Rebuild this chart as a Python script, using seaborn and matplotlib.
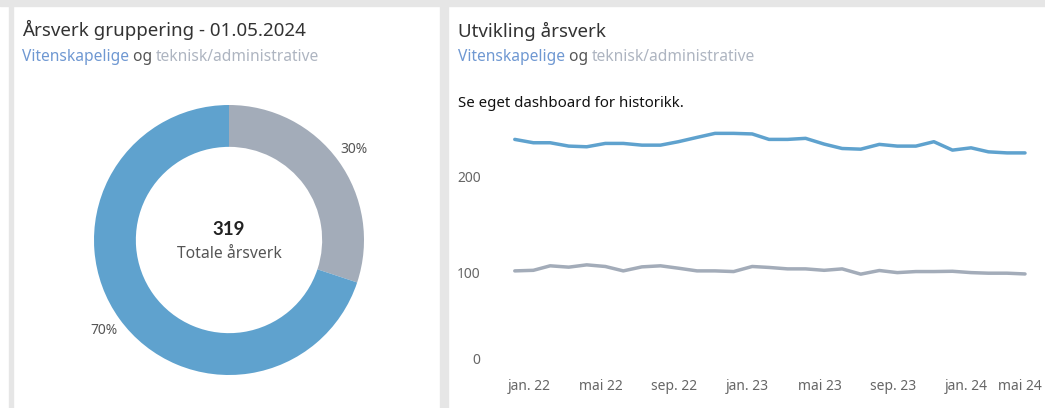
import pandas as pd
import numpy as np
import seaborn as sns
import matplotlib.pyplot as plt
from matplotlib.patches import Rectangle
from matplotlib.transforms import ScaledTranslation

# data
months = pd.date_range("2022-01-01", "2024-05-01", freq="MS")
vit = [238.7, 235.2, 235.2, 231.7, 231.0, 234.5, 234.5, 232.7, 232.7, 236.3,
       240.8, 245.0, 245.0, 244.4, 238.7, 238.7, 239.8, 233.8, 229.2, 228.5,
       233.5, 231.7, 231.7, 236.3, 227.5, 229.9, 225.7, 224.6, 224.6]
tek = [101.4, 102.0, 106.7, 105.3, 107.7, 106.0, 101.4, 105.6, 106.7, 104.2,
       101.4, 101.4, 100.7, 106.0, 105.0, 103.5, 103.5, 102.0, 103.5, 98.0,
       101.8, 99.6, 100.7, 100.7, 101.0, 99.6, 99.0, 99.0, 98.2]
donut_groups = ["teknisk/administrative", "Vitenskapelige"]
donut_vals = [96, 223]
total = 319
xlabels = ["jan. 22", "mai 22", "sep. 22", "jan. 23", "mai 23", "sep. 23", "jan. 24", "mai 24"]

BLUE = "#5fa2ce"
GREY = "#a3acb9"
W, H = 1045, 408

sns.set_theme(style="white")
plt.rcParams["font.family"] = ["Noto Sans", "DejaVu Sans"]

fig = plt.figure(figsize=(W / 100, H / 100), dpi=100)
fig.patch.set_facecolor("white")

def fx(x):
    return x / W

def fy(y):
    return 1 - y / H

# dashboard frame
bg = "#e6e6e6"
for x0, y0, x1, y1 in [(0, 0, W, 6), (9, 0, 13, H), (440, 0, 448, H)]:
    fig.patches.append(Rectangle((fx(x0), fy(y1)), fx(x1 - x0), (y1 - y0) / H,
                                 transform=fig.transFigure, color=bg, zorder=0))

def subtitle(x, y, size=11.2):
    t1 = fig.text(fx(x), fy(y), "Vitenskapelige", color="#6f98d2", fontsize=size)
    a = plt.annotate(" og ", xy=(1, 0), xycoords=t1, va="bottom", ha="left",
                     color="#555555", fontsize=size, annotation_clip=False)
    plt.annotate("teknisk/administrative", xy=(1, 0), xycoords=a, va="bottom", ha="left",
                 color="#aeb5c1", fontsize=size, annotation_clip=False)

# left panel: donut
ax1 = fig.add_axes([fx(94), fy(375), 270 / W, 270 / H])
wedges, texts, autotexts = ax1.pie(donut_vals, colors=[GREY, BLUE], startangle=90,
                                   counterclock=False, radius=1,
                                   wedgeprops=dict(width=0.31, linewidth=0),
                                   autopct="%1.0f%%", pctdistance=1.14,
                                   textprops=dict(color="#555555", fontsize=10))
ax1.set_xlim(-1, 1)
ax1.set_ylim(-1, 1)
ax1.text(0, 0.08, str(total), ha="center", va="center", fontsize=13.5,
         fontweight="bold", color="#222222", family=["Lato", "DejaVu Sans"])
ax1.text(0, -0.1, "Totale årsverk", ha="center", va="center", fontsize=11.3, color="#555555")

fig.text(fx(22), fy(36), "Årsverk gruppering - 01.05.2024", fontsize=13.5, color="#333333")

# right panel: lines
df = pd.DataFrame({"month": list(months) * 2,
                   "value": vit + tek,
                   "group": ["Vitenskapelige"] * len(vit) + ["teknisk/administrative"] * len(tek)})

ax2 = fig.add_axes([fx(489), fy(368), (1040 - 489) / W, (368 - 119) / H])
sns.lineplot(data=df, x="month", y="value", hue="group", ax=ax2,
             palette={"Vitenskapelige": BLUE, "teknisk/administrative": GREY},
             linewidth=2.5, legend=False)
ax2.set_xlim(months[0] - pd.Timedelta(days=43), months[-1] + pd.Timedelta(days=25))
ax2.set_ylim(0, 260)
ax2.set_yticks([0, 100, 200])
ax2.set_xticks(months[::4])
ax2.set_xticklabels(xlabels)
ax2.set_xticks(months, minor=True)
ax2.set_xlabel("")
ax2.set_ylabel("")
for s in ax2.spines.values():
    s.set_visible(False)
ax2.tick_params(axis="y", length=5, color="#eeeeee", labelcolor="#666666", labelsize=10, pad=1)
ax2.tick_params(axis="x", which="both", length=3, color="#e4e4e4", direction="out",
                labelcolor="#666666", labelsize=10, pad=5)
ax2.patch.set_alpha(0)
xlabs = ax2.get_xticklabels()
for lab in xlabs[:-1]:
    lab.set_transform(lab.get_transform() + ScaledTranslation(0.14, 0, fig.dpi_scale_trans))
xlabs[-1].set_transform(xlabs[-1].get_transform() + ScaledTranslation(-0.05, 0, fig.dpi_scale_trans))
zero = ax2.get_yticklabels()[0]
zero.set_transform(zero.get_transform() + ScaledTranslation(0, 0.09, fig.dpi_scale_trans))

fig.text(fx(458), fy(37), "Utvikling årsverk", fontsize=13.5, color="#333333")
fig.text(fx(458), fy(107), "Se eget dashboard for historikk.", fontsize=10.8, color="#111111")
subtitle(22, 61)
subtitle(458, 61)

fig.savefig("out.png", dpi=100)
